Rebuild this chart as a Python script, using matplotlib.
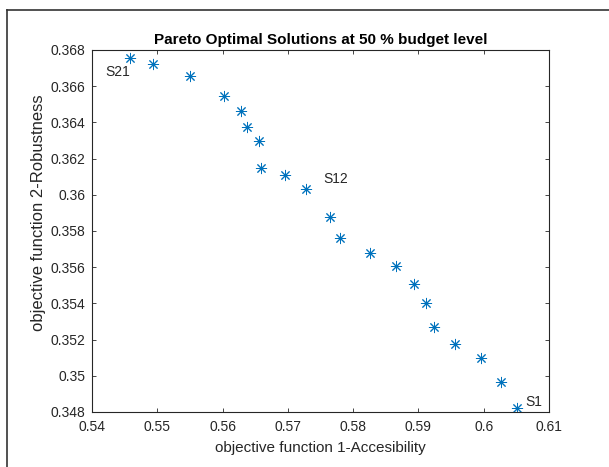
import matplotlib
matplotlib.use("Agg")
import matplotlib.pyplot as plt
from matplotlib.lines import Line2D
import numpy as np

# pareto front, S21 (top-left) ... S1 (bottom-right)
accessibility = [0.5458, 0.5494, 0.5550, 0.5602, 0.5628, 0.5637, 0.5656,
                 0.5659, 0.5696, 0.5728, 0.5764, 0.5780, 0.5826, 0.5866,
                 0.5893, 0.5911, 0.5924, 0.5956, 0.5996, 0.6026, 0.6051]
robustness = [0.36756, 0.36723, 0.36657, 0.36546, 0.36463, 0.36375, 0.36297,
              0.36148, 0.36109, 0.36032, 0.35877, 0.35761, 0.35678, 0.35607,
              0.35507, 0.35402, 0.35270, 0.35176, 0.35099, 0.34966, 0.34822]
solution_names = ["S%d" % (21 - i) for i in range(len(accessibility))]
labelled = {"S21": (-25, -14), "S12": (17, 10), "S1": (8, 6)}

x_ticks = np.round(np.arange(0.54, 0.6101, 0.01), 2)
y_ticks = np.round(np.arange(0.348, 0.3681, 0.002), 3)

plt.rcParams["font.family"] = ["Liberation Sans", "DejaVu Sans"]

fig = plt.figure(figsize=(6.09, 4.67), dpi=100)
ax = fig.add_axes([0.151, 0.1178, 0.7505, 0.7752])

ax.plot(accessibility, robustness, linestyle="none", marker=(8, 2, 0),
        markersize=8, markeredgewidth=0.7, color="#0072BD")

for name, xv, yv in zip(solution_names, accessibility, robustness):
    if name in labelled:
        dx, dy = labelled[name]
        ax.annotate(name, (xv, yv), xytext=(dx, dy), textcoords="offset pixels",
                    fontsize=10, color="#262626", va="center", ha="left")

ax.set_xlim(0.54, 0.61)
ax.set_ylim(0.348, 0.368)
ax.set_xticks(x_ticks)
ax.set_xticklabels(["%g" % t for t in x_ticks])
ax.set_yticks(y_ticks)
ax.set_yticklabels(["%g" % t for t in y_ticks])
ax.tick_params(direction="in", top=True, right=True, length=3, width=0.6,
               colors="#262626", labelsize=10, labelcolor="#262626")
ax.tick_params(axis="x", pad=6)
ax.tick_params(axis="y", pad=5)
for s in ax.spines.values():
    s.set_color("#262626")
    s.set_linewidth(0.8)

ax.set_xlabel("objective function 1-Accesibility", fontsize=11, color="#262626",
              labelpad=5)
ax.set_ylabel("objective function 2-Robustness", fontsize=12, color="#262626")
ax.yaxis.set_label_coords(-0.10, 0.55)
ax.set_title("Pareto Optimal Solutions at 50 % budget level", fontsize=11,
             fontweight="bold", color="black", pad=4)

# outer frame of the exported figure
fig.add_artist(Line2D([7 / 609, 7 / 609], [0, 1 - 10 / 467], transform=fig.transFigure,
                      color="#333333", linewidth=1.2))
fig.add_artist(Line2D([7 / 609, 1], [1 - 10 / 467, 1 - 10 / 467], transform=fig.transFigure,
                      color="#333333", linewidth=1.2))

fig.savefig("out.png", dpi=100)
plt.close(fig)
